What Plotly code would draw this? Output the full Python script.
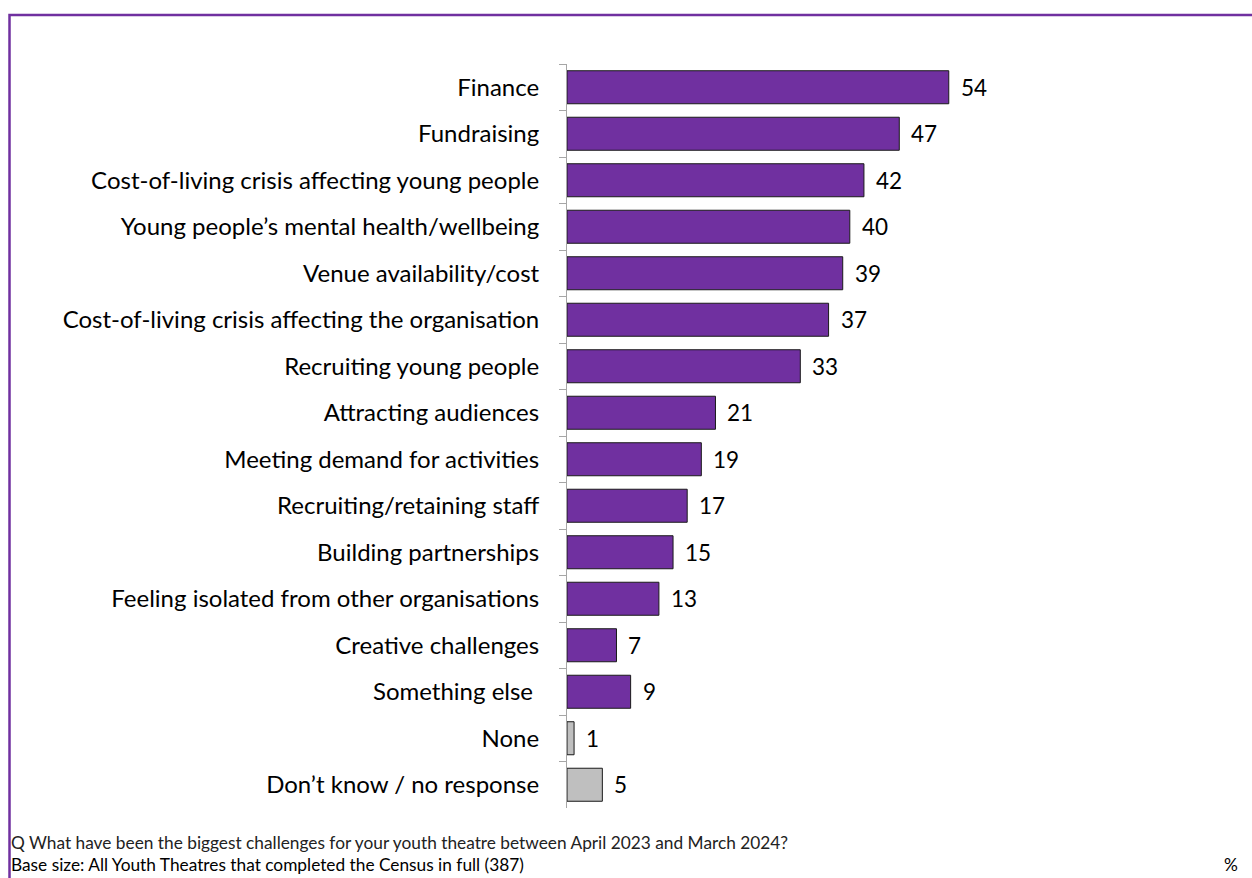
import plotly.graph_objects as go

categories = [
    "Finance",
    "Fundraising",
    "Cost-of-living crisis affecting young people",
    "Young people’s mental health/wellbeing",
    "Venue availability/cost",
    "Cost-of-living crisis affecting the organisation",
    "Recruiting young people",
    "Attracting audiences",
    "Meeting demand for activities",
    "Recruiting/retaining staff",
    "Building partnerships",
    "Feeling isolated from other organisations",
    "Creative challenges",
    "Something else ",
    "None",
    "Don’t know / no response",
]
values = [54, 47, 42, 40, 39, 37, 33, 21, 19, 17, 15, 13, 7, 9, 1, 5]
neutral = {"None", "Don’t know / no response"}

PURPLE = "#7030A0"
GREY = "#BFBFBF"
FONT = "Lato, 'Open Sans', sans-serif"

W, H = 1252, 878
L, R, T, B = 567, 20, 64, 70
pw, ph = W - L - R, H - T - B

colors = [GREY if c in neutral else PURPLE for c in categories]

fig = go.Figure(
    go.Bar(
        x=values,
        y=categories,
        orientation="h",
        width=0.71,
        marker=dict(color=colors, line=dict(color="#1a1a1a", width=1)),
        hoverinfo="skip",
    )
)

# value labels just past the end of each bar
for c, v in zip(categories, values):
    fig.add_annotation(
        x=v, y=c, text=str(v), showarrow=False,
        xanchor="left", xshift=10, font=dict(size=22.5, color="#000000", family=FONT),
    )

def px_x(p):
    return (p - L) / pw

def px_y(p):
    return (H - B - p) / ph

# footer notes
fig.add_annotation(
    xref="paper", yref="paper", x=px_x(9), y=px_y(842), xanchor="left", yanchor="middle",
    text="Q What have been the biggest challenges for your youth theatre between April 2023 and March 2024?",
    showarrow=False, font=dict(size=17.3, color="#222222", family=FONT),
)
fig.add_annotation(
    xref="paper", yref="paper", x=px_x(9), y=px_y(864), xanchor="left", yanchor="middle",
    text="Base size: All Youth Theatres that completed the Census in full (387)",
    showarrow=False, font=dict(size=17.3, color="#000000", family=FONT),
)
fig.add_annotation(
    xref="paper", yref="paper", x=px_x(1240), y=px_y(864), xanchor="right", yanchor="middle",
    text="%", showarrow=False, font=dict(size=17.3, color="#000000", family=FONT),
)

# purple frame around the chart
fig.add_shape(
    type="rect", xref="paper", yref="paper",
    x0=px_x(9.5), x1=px_x(W + 20), y0=px_y(H + 20), y1=px_y(15),
    line=dict(color=PURPLE, width=2.5), fillcolor="rgba(0,0,0,0)", layer="above",
)

fig.update_layout(
    width=W, height=H,
    margin=dict(l=L, r=R, t=T, b=B),
    paper_bgcolor="white", plot_bgcolor="white",
    showlegend=False,
    font=dict(family=FONT, color="#000000"),
)
fig.update_xaxes(
    range=[0, pw / 7.07], visible=False, fixedrange=True,
)
fig.update_yaxes(
    autorange="reversed",
    type="category",
    tickson="boundaries",
    ticks="outside", ticklen=7, tickcolor="#A6A6A6", tickwidth=1,
    showline=True, linecolor="#A6A6A6", linewidth=1,
    showgrid=False,
    ticklabelstandoff=22,
    tickfont=dict(size=24, color="#000000", family=FONT),
    fixedrange=True,
)

fig.write_html("out.html")
